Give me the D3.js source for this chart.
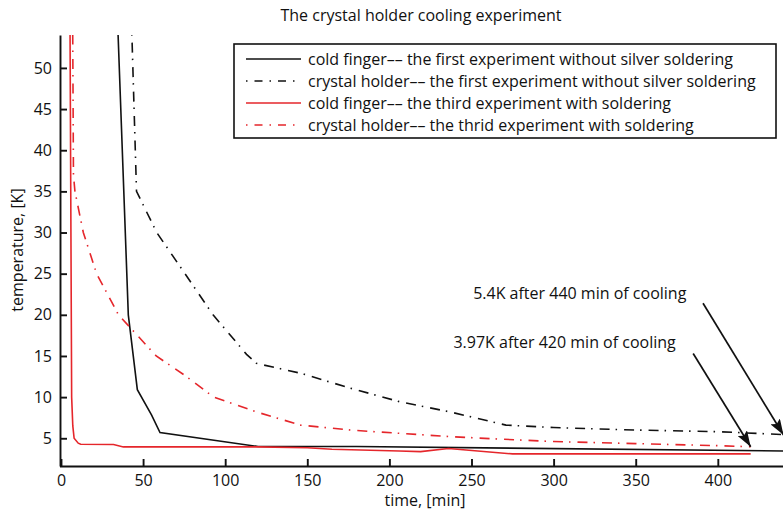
<!DOCTYPE html>
<html>
<head>
    <title>Crystal holder cooling</title>
    <script src="https://d3js.org/d3.v7.min.js"></script>
    <style>
        body { margin: 0; background: #fff; }
        text { font-family: "Open Sans", "DejaVu Sans", sans-serif; fill: #111; }
        .axis path, .axis line { stroke: #111; stroke-width: 1.9px; }
        .axis text { font-size: 16px; }
        .curve { fill: none; stroke-width: 1.6px; }
    </style>
</head>
<body>
    <script>
        // values: [time in min, temperature in K]
        const coldFingerFirst = [[33.5, 61], [41, 20], [46.5, 10.9], [55.2, 7.8], [60.3, 5.7], [120, 4.0], [180, 4.0], [440, 3.45]];
        const holderFirst = [[42, 62], [46, 35], [58.3, 30], [75.5, 25], [92.6, 20], [113, 15.2], [119, 14.1], [146, 12.9], [176, 11.1], [206, 9.45], [237, 8.2], [271, 6.6], [300, 6.3], [350, 6.0], [400, 5.8], [440, 5.45]];
        const coldFingerThird = [[5.4, 60], [6.5, 10], [7.2, 6.5], [8, 5], [10.5, 4.4], [12, 4.27], [32, 4.25], [38, 3.95], [120, 3.95], [150, 3.85], [165, 3.66], [206, 3.45], [219, 3.38], [236, 3.75], [275, 3.1], [420, 3.1]];
        const holderThird = [[7.0, 60], [7.6, 37], [8.5, 35], [13.6, 30], [21.7, 25], [35, 20], [58, 15], [75, 12.7], [93, 10], [119, 8.2], [146, 6.6], [176, 6.0], [206, 5.6], [237, 5.2], [267, 4.9], [300, 4.6], [350, 4.35], [400, 4.1], [420, 3.97]];

        const seriesNames = [
            "cold finger\u2013\u2013 the first experiment without silver soldering",
            "crystal holder\u2013\u2013 the first experiment without silver soldering",
            "cold finger\u2013\u2013 the third experiment with soldering",
            "crystal holder\u2013\u2013 the thrid experiment with soldering"
        ];
        const xTicks = [0, 50, 100, 150, 200, 250, 300, 350, 400];
        const yTicks = [5, 10, 15, 20, 25, 30, 35, 40, 45, 50];

        // annotations: label, text position, arrow tail, arrow tip (data coords)
        const notes = [
            { label: "5.4K after 440 min of cooling", tx: 251, ty: 21.9, from: [391, 21.4], to: [440, 5.4] },
            { label: "3.97K after 420 min of cooling", tx: 239, ty: 16.0, from: [385, 15.3], to: [420, 3.97] }
        ];

        const red = "#e5262b";
        const styles = [
            { color: "#111", dash: null },
            { color: "#111", dash: "10,6,1.5,7" },
            { color: red, dash: null },
            { color: red, dash: "10,6,1.5,7" }
        ];
        const allSeries = [coldFingerFirst, holderFirst, coldFingerThird, holderThird];

        const W = 783, H = 516;
        const svg = d3.select("body").append("svg")
            .attr("width", W).attr("height", H);

        const x = d3.scaleLinear().domain([-0.9, 440]).range([59.5, 783.5]);
        const y = d3.scaleLinear().domain([1.63, 54]).range([466, 35]);

        svg.append("defs").append("clipPath").attr("id", "plot")
            .append("rect").attr("x", 60).attr("y", 35).attr("width", 724).attr("height", 431);

        svg.append("defs").append("marker")
            .attr("id", "head")
            .attr("viewBox", "0 0 16 11")
            .attr("refX", 16).attr("refY", 5.5)
            .attr("markerWidth", 16).attr("markerHeight", 11)
            .attr("markerUnits", "userSpaceOnUse")
            .attr("orient", "auto")
            .append("path").attr("d", "M0,0L16,5.5L0,11L3,5.5Z").attr("fill", "#111");

        // title
        svg.append("text")
            .attr("x", 421).attr("y", 21)
            .attr("text-anchor", "middle")
            .style("font-size", "16px")
            .text("The crystal holder cooling experiment");

        // curves
        const line = d3.line().x(d => x(d[0])).y(d => y(d[1]));
        svg.append("g").attr("clip-path", "url(#plot)")
            .selectAll("path")
            .data(allSeries)
            .join("path")
            .attr("class", "curve")
            .attr("d", line)
            .attr("stroke", (d, i) => styles[i].color)
            .attr("stroke-dasharray", (d, i) => styles[i].dash);

        // axes
        svg.append("g")
            .attr("class", "axis")
            .attr("transform", `translate(0,466)`)
            .call(d3.axisBottom(x).tickValues(xTicks).tickSize(-7).tickSizeOuter(0).tickPadding(9));

        svg.append("g")
            .attr("class", "axis")
            .attr("transform", `translate(60,0)`)
            .call(d3.axisLeft(y).tickValues(yTicks).tickSize(-7).tickSizeOuter(0).tickPadding(8));

        svg.selectAll(".axis .domain").attr("stroke", "#111");

        svg.append("text")
            .attr("x", 425).attr("y", 506)
            .attr("text-anchor", "middle")
            .style("font-size", "16px")
            .text("time, [min]");

        svg.append("text")
            .attr("transform", "translate(23,250) rotate(-90)")
            .attr("text-anchor", "middle")
            .style("font-size", "16px")
            .text("temperature, [K]");

        // annotations
        notes.forEach(n => {
            svg.append("text")
                .attr("x", x(n.tx)).attr("y", y(n.ty))
                .style("font-size", "16px")
                .text(n.label);
            svg.append("line")
                .attr("x1", x(n.from[0])).attr("y1", y(n.from[1]))
                .attr("x2", x(n.to[0])).attr("y2", y(n.to[1]))
                .attr("stroke", "#111").attr("stroke-width", 1.7)
                .attr("marker-end", "url(#head)");
        });

        // legend
        const legend = svg.append("g");
        legend.append("rect")
            .attr("x", 234).attr("y", 44).attr("width", 542).attr("height", 94)
            .attr("fill", "#fff").attr("stroke", "#111").attr("stroke-width", 1.6);

        const rows = legend.selectAll("g.row")
            .data(seriesNames)
            .join("g")
            .attr("class", "row")
            .attr("transform", (d, i) => `translate(0,${59 + i * 22})`);

        rows.append("line")
            .attr("x1", 246).attr("x2", 301)
            .attr("stroke", (d, i) => styles[i].color)
            .attr("stroke-width", 1.6)
            .attr("stroke-dasharray", (d, i) => styles[i].dash ? "1.5,7,8,7" : null);

        rows.append("text")
            .attr("x", 308).attr("y", 5.5)
            .style("font-size", "16px")
            .text(d => d);
    </script>
</body>
</html>
